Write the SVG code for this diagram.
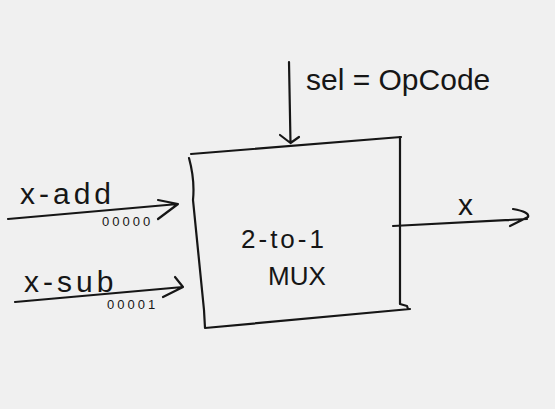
<svg xmlns="http://www.w3.org/2000/svg" width="555" height="409" viewBox="0 0 555 409">
<style>
.ink{fill:none;stroke:#161616;stroke-width:2.2;stroke-linecap:round;stroke-linejoin:round}
.t{font-family:"Liberation Sans","DejaVu Sans",sans-serif;fill:#161616}
.big{font-size:30px}
.mid{font-size:26px}
.in{font-size:30px;letter-spacing:4px}
.sm{font-size:13px;letter-spacing:3px}
</style>
<rect width="555" height="409" fill="#f0f0f0"/>
<g id="mux">
<path class="ink" d="M191,154 L401,137 M400,137 L400,304 L407,306 L408,309 M410,309 L205,328 M189,158 Q195,180 193,200 L204,310 L205,328"/>
<text class="t mid" x="284" y="248" text-anchor="middle" letter-spacing="3">2-to-1</text>
<text class="t mid" x="297" y="285" text-anchor="middle">MUX</text>
</g>
<g id="connectors">
<path id="sel" class="ink" d="M289,62 L290.5,143 M280,135 L290.5,143 L299,137"/>
<path id="in-add" class="ink" d="M8,219 L178,204 M158,200 L178,204 L158,219"/>
<path id="in-sub" class="ink" d="M15,302 L183,287 M175,277 L183,287 L163,297"/>
<path id="out" class="ink" d="M393,226 L527,219 M513,209 Q530,212 528,217 L510,226"/>
</g>
<g id="labels">
<text class="t big" x="306" y="90">sel = OpCode</text>
<text class="t in" x="20" y="204">x-add</text>
<text class="t sm" x="102" y="226">00000</text>
<text class="t in" x="24" y="292">x-sub</text>
<text class="t sm" x="107" y="309">00001</text>
<text class="t big" x="458" y="215" font-size="34">x</text>
</g>
</svg>
